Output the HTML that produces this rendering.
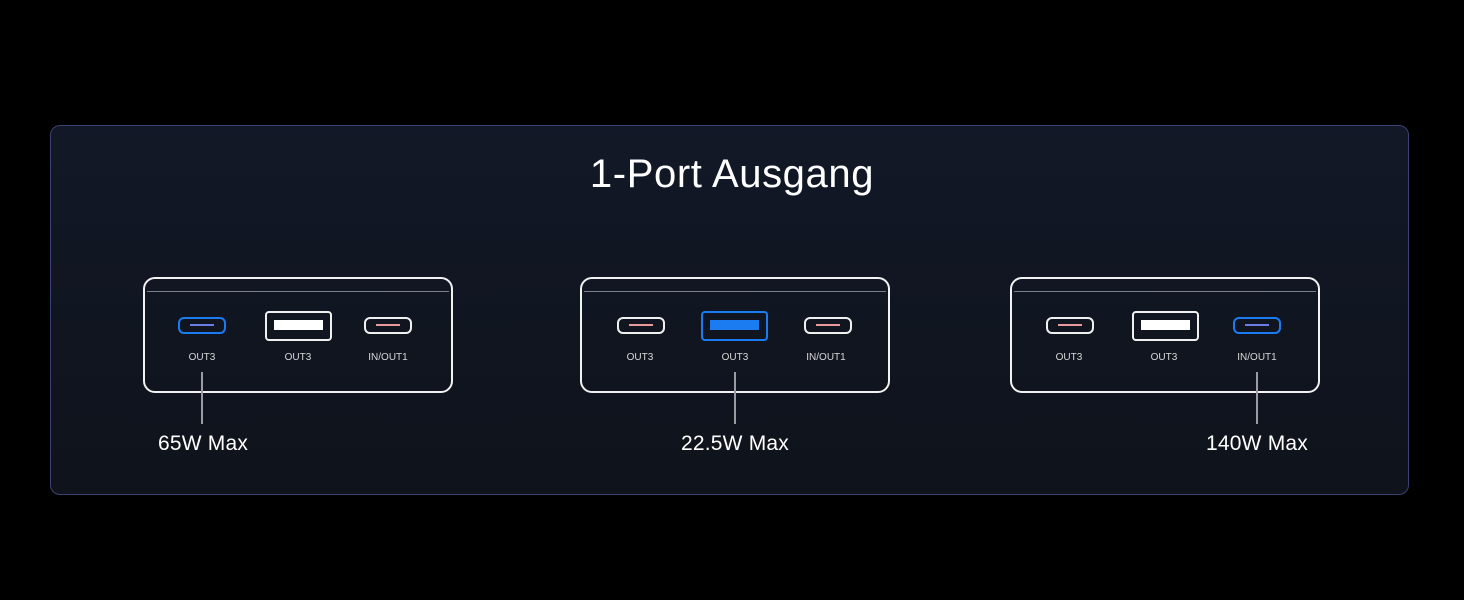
<!DOCTYPE html>
<html><head><style>
body{margin:0;width:1464px;height:600px;background:#000;position:relative;overflow:hidden;font-family:"Liberation Sans",sans-serif;color:#fff}
.a{position:absolute}
.panel{left:50px;top:125px;width:1357px;height:368px;border:1px solid #3b4170;border-radius:10px;background:linear-gradient(180deg,#121827,#0f131b)}
.title{left:0;width:1464px;top:152px;text-align:center;font-size:40px;letter-spacing:0.6px}
.box{width:306px;height:112px;top:277px;border:2px solid #f2f2f2;border-radius:12px}
.box:after{content:"";position:absolute;left:2px;right:2px;top:12px;height:1px;background:#7b7f88}
.c{height:13px;width:44px;border:2px solid #f0f0f0;border-radius:6px;top:317px}
.c:after{content:"";position:absolute;left:10px;right:10px;top:5px;height:2px;background:#e99a9a}
.c.b{border-color:#1a7cf0}
.c.b:after{background:#6a7ce8}
.ua{width:63px;height:26px;border:2px solid #f0f0f0;border-radius:4px;top:311px}
.ua:after{content:"";position:absolute;left:7px;right:7px;top:7px;height:10px;background:#fff}
.ua.b{border-color:#1a7cf0}
.ua.b:after{background:#1a7cf0}
.lb{font-size:10px;color:#d8d8d8;top:352px;width:80px;text-align:center}
.ln{width:2px;background:#9a9ca2;top:372px;height:52px}
.w{font-size:21px;top:432px;width:160px;text-align:center;letter-spacing:0.2px}
</style></head><body>
<div class="a panel"></div>
<div class="a title">1-Port Ausgang</div>

<div class="a box" style="left:143px"></div>
<div class="a c b" style="left:178px"></div>
<div class="a ua" style="left:265px"></div>
<div class="a c" style="left:364px"></div>
<div class="a lb" style="left:162px">OUT3</div>
<div class="a lb" style="left:258px">OUT3</div>
<div class="a lb" style="left:348px">IN/OUT1</div>
<div class="a ln" style="left:201px"></div>
<div class="a w" style="left:123px">65W Max</div>

<div class="a box" style="left:580px"></div>
<div class="a c" style="left:617px"></div>
<div class="a ua b" style="left:701px"></div>
<div class="a c" style="left:804px"></div>
<div class="a lb" style="left:600px">OUT3</div>
<div class="a lb" style="left:695px">OUT3</div>
<div class="a lb" style="left:786px">IN/OUT1</div>
<div class="a ln" style="left:734px"></div>
<div class="a w" style="left:655px">22.5W Max</div>

<div class="a box" style="left:1010px"></div>
<div class="a c" style="left:1046px"></div>
<div class="a ua" style="left:1132px"></div>
<div class="a c b" style="left:1233px"></div>
<div class="a lb" style="left:1029px">OUT3</div>
<div class="a lb" style="left:1124px">OUT3</div>
<div class="a lb" style="left:1217px">IN/OUT1</div>
<div class="a ln" style="left:1256px"></div>
<div class="a w" style="left:1177px">140W Max</div>
</body></html>
